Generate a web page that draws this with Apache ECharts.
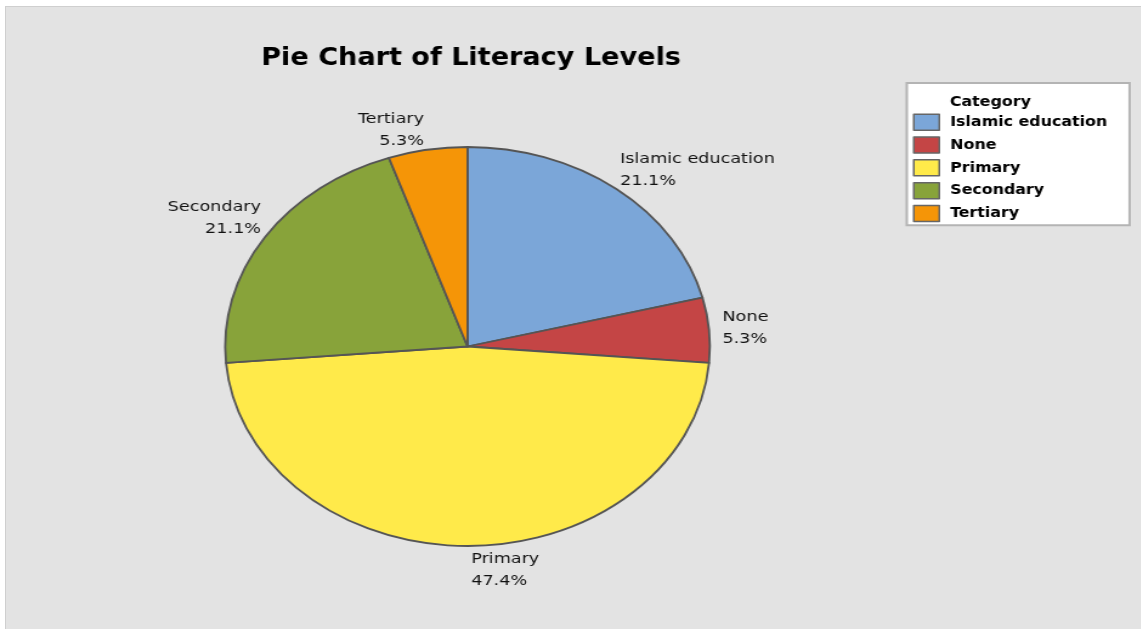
<!DOCTYPE html>
<html>
<head>
<meta charset="utf-8">
<script src="https://cdn.jsdelivr.net/npm/echarts@6/dist/echarts.min.js"></script>
<style>
  html, body { margin: 0; padding: 0; background: #ffffff; overflow: hidden; }
  #panel {
    position: absolute; left: 5px; top: 6px; width: 1136px; height: 623px;
    background: #e3e3e3; border-left: 1px solid #cfcfcf; border-top: 1px solid #cfcfcf;
    box-sizing: border-box;
  }
  /* chart is laid out on a narrower canvas and widened to the page */
  #chart {
    position: absolute; left: 0; top: 0; width: 941px; height: 629px;
    transform: scaleX(1.2147); transform-origin: 0 0;
  }
</style>
</head>
<body>
<div id="panel"></div>
<div id="chart"></div>
<script>
// Survey counts per literacy level
const categories = ['Islamic education', 'None', 'Primary', 'Secondary', 'Tertiary'];
const counts = [4, 1, 9, 4, 1];
const sliceColors = ['#7ba6d8', '#c44545', '#ffea4a', '#88a33a', '#f59507'];

const total = counts.reduce((a, b) => a + b, 0);

const chart = echarts.init(document.getElementById('chart'), null, { renderer: 'canvas' });

const labelFont = "'DejaVu Sans', Verdana, sans-serif";
const boldFont = "'DejaVu Sans Condensed', 'DejaVu Sans', sans-serif";

chart.setOption({
  animation: false,
  backgroundColor: 'transparent',
  title: [
    {
      text: 'Pie Chart of Literacy Levels',
      left: 215, top: 46, padding: 0,
      textStyle: { fontFamily: boldFont, fontWeight: 'bold', fontSize: 24.8, color: '#000' }
    },
    {
      text: 'Category',
      left: 782, top: 95, padding: 0,
      textStyle: { fontFamily: boldFont, fontWeight: 'bold', fontSize: 14.5, color: '#000' }
    }
  ],
  legend: {
    orient: 'vertical',
    left: 746.5, top: 83,
    padding: [30.5, 18.5, 3, 5],
    itemWidth: 21, itemHeight: 16, itemGap: 5.3,
    icon: 'rect',
    selectedMode: false,
    backgroundColor: '#ffffff',
    borderColor: '#b4b4b4', borderWidth: 2, borderRadius: 0,
    itemStyle: { borderColor: '#666666', borderWidth: 1.5 },
    textStyle: { fontFamily: boldFont, fontWeight: 'bold', fontSize: 14.5, color: '#000', padding: [0, 0, 0, 4] },
    data: categories
  },
  series: [{
    type: 'pie',
    center: [384.9, 346.5],
    radius: 199.5,
    startAngle: 90,
    clockwise: true,
    avoidLabelOverlap: false,
    emphasis: { disabled: true },
    itemStyle: { borderColor: '#555555', borderWidth: 1.8 },
    label: {
      show: true,
      position: 'outside',
      // each share is rounded on its own to one decimal
      formatter: (p) => p.name + '\n' + (p.value / total * 100).toFixed(1) + '%',
      fontFamily: labelFont,
      fontSize: 14.5,
      lineHeight: 22,
      color: '#111111'
    },
    labelLine: { show: true, length: 10, length2: 5, lineStyle: { opacity: 0 } },
    // place each label at the rim point of its slice, on the outward side
    labelLayout: function (p) {
      const pts = p.labelLinePoints;
      if (!pts) return {};
      const x0 = pts[0][0], y0 = pts[0][1];
      const dx = pts[1][0] - x0, dy = pts[1][1] - y0;
      const len = Math.hypot(dx, dy) || 1;
      const ux = dx / len, uy = dy / len;
      if (Math.abs(uy) < 0.3) {
        return {
          x: x0 + (ux > 0 ? 11 : -11), y: y0 - 2,
          align: ux > 0 ? 'left' : 'right', verticalAlign: 'middle'
        };
      }
      const left = ux > -0.05;
      return {
        x: x0 + (left ? 3 : -3),
        y: y0 + (uy > 0 ? 2 : 3),
        align: left ? 'left' : 'right',
        verticalAlign: uy > 0 ? 'top' : 'bottom'
      };
    },
    data: categories.map((name, i) => ({
      name: name,
      value: counts[i],
      itemStyle: { color: sliceColors[i] }
    }))
  }]
});
</script>
</body>
</html>
